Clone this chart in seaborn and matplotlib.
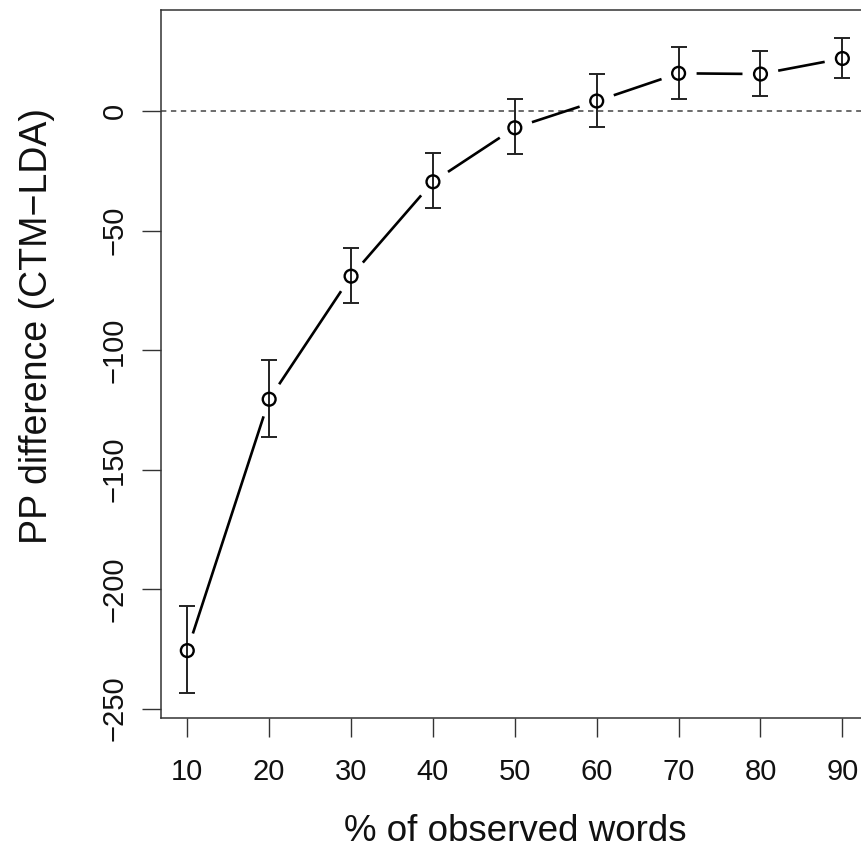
import numpy as np
import pandas as pd
import matplotlib
matplotlib.use("Agg")
import matplotlib.pyplot as plt
import seaborn as sns
from matplotlib.collections import LineCollection

# ---- data ----
pct_observed = [10, 20, 30, 40, 50, 60, 70, 80, 90]
pp_diff = [-225.7, -120.5, -69.0, -29.5, -6.9, 4.3, 15.9, 15.6, 22.1]
err_upper = [-207.0, -104.1, -57.3, -17.4, 5.1, 15.8, 27.0, 25.3, 30.8]
err_lower = [-243.6, -136.2, -80.3, -40.6, -17.9, -6.7, 5.0, 6.5, 14.0]
x_ticks = [10, 20, 30, 40, 50, 60, 70, 80, 90]
y_ticks = [0, -50, -100, -150, -200, -250]

df = pd.DataFrame({"pct": pct_observed, "diff": pp_diff,
                   "lo": err_lower, "hi": err_upper})

sns.set_style("ticks")
plt.rcParams["font.family"] = ["Liberation Sans", "DejaVu Sans"]

fig = plt.figure(figsize=(8.62, 8.51), dpi=100)
ax = fig.add_axes([0.1864, 0.1563, 0.8217, 0.8314])
ax.set_xlim(6.75, 93.25)
ax.set_ylim(-253.9, 42.2)

# reference line at zero
ax.axhline(0, color="#444444", lw=1.1, dashes=(3.5, 3.0), zorder=1)

# error bars
ax.errorbar(df["pct"], df["diff"],
            yerr=[df["diff"] - df["lo"], df["hi"] - df["diff"]],
            fmt="none", ecolor="#222222", elinewidth=1.4, capsize=6,
            capthick=1.4, zorder=2)

# connecting line with gaps around points (R type="b")
fig.canvas.draw()
pts = ax.transData.transform(np.column_stack([df["pct"], df["diff"]]))
gap = 18.0 * fig.dpi / 100.0
segs = []
for p0, p1 in zip(pts[:-1], pts[1:]):
    d = p1 - p0
    L = np.hypot(*d)
    if L > 2 * gap:
        u = d / L
        a = ax.transData.inverted().transform(p0 + u * gap)
        b = ax.transData.inverted().transform(p1 - u * gap)
        segs.append([a, b])
ax.add_collection(LineCollection(segs, colors="black", linewidths=1.9,
                                 zorder=3, capstyle="butt"))

# open circle markers
sns.scatterplot(data=df, x="pct", y="diff", ax=ax, marker="o", s=85,
                facecolor="none", edgecolor="black", linewidth=1.7,
                zorder=4, legend=False)

ax.set_xticks(x_ticks)
ax.set_xticklabels([str(v) for v in x_ticks])
ax.set_yticks(y_ticks)
ax.set_yticklabels([str(v).replace("-", "\u2212") for v in y_ticks],
                   rotation=90, va="center")

ax.tick_params(axis="both", direction="out", length=14, width=1.0,
               color="#333333", labelsize=21, labelcolor="#111111")
ax.tick_params(axis="x", pad=15)
ax.tick_params(axis="y", pad=9)

for s in ax.spines.values():
    s.set_color("#333333")
    s.set_linewidth(1.1)

ax.set_xlabel("% of observed words", fontsize=26.5, labelpad=20, color="#111111")
ax.set_ylabel("PP difference (CTM\u2212LDA)", fontsize=27, color="#111111")
ax.yaxis.set_label_coords(-0.149, 0.554)

fig.savefig("out.png", dpi=100)
